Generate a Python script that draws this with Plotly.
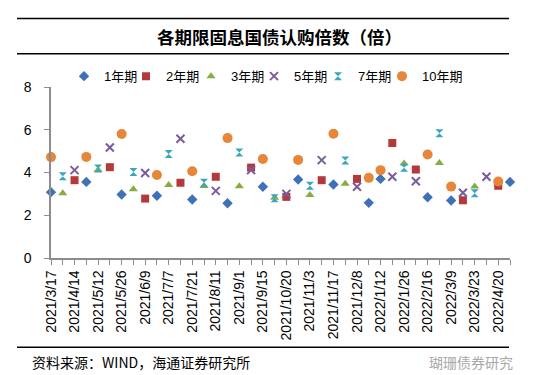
import plotly.graph_objects as go

dates = [
    "2021/3/17", "2021/3/31", "2021/4/14", "2021/4/28", "2021/5/12", "2021/5/19",
    "2021/5/26", "2021/6/2", "2021/6/9", "2021/6/23", "2021/7/7", "2021/7/14",
    "2021/7/21", "2021/7/28", "2021/8/11", "2021/8/18", "2021/9/1", "2021/9/8",
    "2021/9/15", "2021/9/29", "2021/10/20", "2021/10/27", "2021/11/3", "2021/11/10",
    "2021/11/17", "2021/11/24", "2021/12/8", "2021/12/22", "2022/1/12", "2022/1/19",
    "2022/1/26", "2022/2/9", "2022/2/16", "2022/2/23", "2022/3/9", "2022/3/16",
    "2022/3/23", "2022/4/13", "2022/4/20", "2022/4/27",
]
N = None
y1 = [3.08, N, N, 3.56, N, N, 2.97, N, N, 2.91, N, N, 2.74, N, N, 2.56, N, N,
      3.33, N, N, 3.67, N, N, 3.44, N, N, 2.58, 3.70, N, N, N, 2.84, N, 2.69, N,
      N, N, N, 3.56]
y2 = [N, N, 3.64, N, N, 4.25, N, N, 2.78, N, N, 3.52, N, N, 3.80, N, N, 4.23,
      N, N, 2.86, N, N, 3.64, N, N, 3.70, N, N, 5.38, N, 4.14, N, N, N, 2.70,
      N, N, 3.38, N]
y3 = [N, 3.03, N, N, 4.12, N, N, 3.22, N, N, 3.42, N, N, 3.37, N, N, 3.36, N,
      N, 2.82, N, N, 2.95, N, N, 3.47, N, N, N, N, 4.42, N, N, 4.45, N, N,
      3.34, N, N, N]
y5 = [N, N, 4.11, N, N, 5.17, N, N, 3.98, N, N, 5.58, N, N, 3.14, N, N, 4.11,
      N, N, 3.00, N, N, 4.58, N, N, 3.33, N, N, 3.80, N, 3.59, N, N, N, 3.05,
      N, 3.80, N, N]
y7 = [N, 3.83, N, N, 4.19, N, N, 4.02, N, N, 4.86, N, N, 3.52, N, N, 4.94, N,
      N, 2.80, N, N, 3.38, N, N, 4.56, N, N, N, N, 4.22, N, N, 5.84, N, N,
      3.03, N, N, N]
y10 = [4.72, N, N, 4.73, N, N, 5.80, N, N, 3.88, N, N, 4.06, N, N, 5.61, N, N,
       4.63, N, N, 4.59, N, N, 5.81, N, N, 3.75, 4.11, N, N, N, 4.84, N, 3.34, N,
       N, N, 3.58, N]
tick_text = [d if i % 2 == 0 else "" for i, d in enumerate(dates)]

series = [
    ("1年期", y1, "diamond", "#3E71B8", 8),
    ("2年期", y2, "square", "#B5393A", 8),
    ("3年期", y3, "triangle-up", "#86AD43", 8),
    ("5年期", y5, "x-thin-open", "#7A5C9E", 8),
    ("7年期", y7, "hourglass", "#3AA5C1", 8),
    ("10年期", y10, "circle", "#E58638", 10),
]
legend_marker_px = [86, 148, 213, 276, 340, 404]

PX0, PX1, PY0, PY1 = 43, 502, 250, 79.3
def px(x):
    return (x - PX0) / (PX1 - PX0)
def py(y):
    return (PY0 - y) / (PY0 - PY1)

fig = go.Figure()
legends = {}
for i, (name, ys, sym, col, sz) in enumerate(series):
    marker = dict(symbol=sym, color=col, size=sz)
    if sym == "x-thin-open":
        marker["line"] = dict(color=col, width=2)
    lg = "legend" if i == 0 else f"legend{i + 1}"
    fig.add_trace(go.Scatter(x=dates, y=ys, mode="markers", name=name,
                             marker=marker, cliponaxis=False, legend=lg,
                             showlegend=True))
    legends[lg] = dict(orientation="h", x=px(legend_marker_px[i] - 30), y=py(68.5),
                       xanchor="left", yanchor="middle",
                       font=dict(size=13, family="Liberation Sans, Noto Sans CJK SC"),
                       itemwidth=30, bgcolor="rgba(0,0,0,0)")

axis_col = "#8C8C8C"
fig.update_layout(
    width=560, height=375, showlegend=True,
    margin=dict(l=43, r=58, t=79, b=125, autoexpand=False),
    paper_bgcolor="white", plot_bgcolor="white",
    font=dict(family="Liberation Sans, Arial, Noto Sans CJK SC", color="black"),
    xaxis=dict(type="category", categoryorder="array", categoryarray=dates,
               range=[0, len(dates) - 1], tickmode="array", tickvals=dates,
               ticktext=tick_text, tickangle=-90, ticks="outside", ticklen=5,
               tickcolor=axis_col, showline=True, linecolor=axis_col, linewidth=1.5,
               showgrid=False, tickfont=dict(size=14), zeroline=False),
    yaxis=dict(range=[0, 8], dtick=2, ticks="outside", ticklen=5, tickcolor=axis_col,
               showline=True, linecolor=axis_col, linewidth=1.5, showgrid=False,
               zeroline=False, tickfont=dict(size=14), ticklabelstandoff=10),
    shapes=[
        dict(type="line", xref="paper", yref="paper", x0=px(9), x1=px(501),
             y0=py(11), y1=py(11), line=dict(color="black", width=1.5)),
        dict(type="line", xref="paper", yref="paper", x0=px(9), x1=px(501),
             y0=py(46), y1=py(46), line=dict(color="black", width=1.5)),
        dict(type="line", xref="paper", yref="paper", x0=px(9), x1=px(501),
             y0=py(339), y1=py(339), line=dict(color="black", width=1.5)),
    ],
    annotations=[
        dict(text="<b>各期限固息国债认购倍数（倍）</b>", xref="paper", yref="paper",
             x=px(271), y=py(29), xanchor="center", yanchor="middle", showarrow=False,
             font=dict(size=17.5, family="Noto Sans CJK SC", color="black")),
        dict(text="资料来源：WIND，海通证券研究所", xref="paper", yref="paper",
             x=px(22), y=py(354), xanchor="left", yanchor="middle", showarrow=False,
             font=dict(size=14, family="Noto Sans CJK SC", color="black")),
        dict(text="瑚珊债券研究", xref="paper", yref="paper",
             x=px(507), y=py(354), xanchor="right", yanchor="middle", showarrow=False,
             font=dict(size=14, family="Noto Sans CJK SC", color="#A8A8A8")),
    ],
    **legends,
)
fig.write_html("out.html")
